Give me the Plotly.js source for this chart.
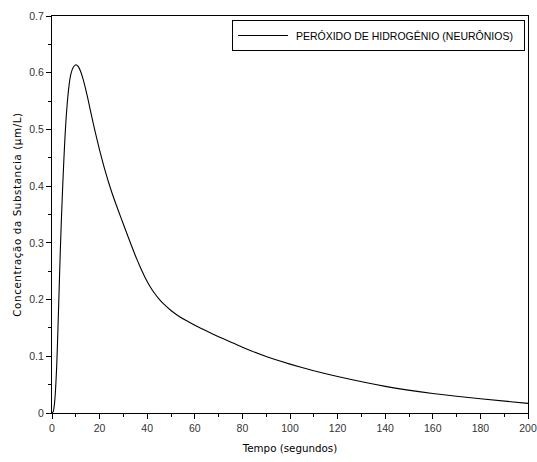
<!DOCTYPE html>
<html>
<head>
<meta charset="utf-8">
<script src="https://cdn.plot.ly/plotly-3.0.1.min.js"></script>
<style>html,body{margin:0;padding:0;background:#fff;}#chart{width:537px;height:462px;}
.ytitle{letter-spacing:0.6px;}</style>
</head>
<body>
<div id="chart"></div>
<script>
const seriesName = "PERÓXIDO DE HIDROGÊNIO (NEURÔNIOS)";
const tempo = [0,0.5,1,1.5,2,2.5,3,3.5,4,4.5,5,5.5,6,6.5,7,7.5,8,9,10,11,12,13,14,15,16,17,18,20,22,25,28,30,33,35,37,39,41,43,45,47,50,53,56,60,65,70,75,80,90,100,110,120,140,160,180,200];
const concentracao = [0,0.002,0.015,0.042,0.085,0.148,0.218,0.287,0.347,0.4,0.448,0.49,0.524,0.551,0.572,0.588,0.599,0.61,0.614,0.611,0.6025,0.5895,0.5735,0.5555,0.536,0.5168,0.4983,0.4633,0.4317,0.3906,0.3552,0.3328,0.2994,0.2778,0.2578,0.240,0.2245,0.2115,0.2008,0.1918,0.1808,0.1716,0.1638,0.1548,0.1444,0.1346,0.1254,0.1160,0.0995,0.0862,0.0745,0.0642,0.047,0.0345,0.025,0.017];
const xTickVals = [0,20,40,60,80,100,120,140,160,180,200];
const yTickVals = [0,0.1,0.2,0.3,0.4,0.5,0.6,0.7];
const xTitle = "Tempo (segundos)";
const yTitle = "Concentração da Substancia (µm/L)";

const font = "Liberation Sans, Arial, sans-serif";
const tfont = "DejaVu Sans, sans-serif";
Plotly.newPlot("chart", [{
  x: tempo, y: concentracao, type: "scatter", mode: "lines",
  name: "\u00a0" + seriesName + "\u00a0\u00a0", line: {color: "#000", width: 1.1, shape: "spline", smoothing: 0.4},
  showlegend: true
}], {
  width: 537, height: 462,
  margin: {l: 52, r: 9, t: 16, b: 49},
  paper_bgcolor: "#fff", plot_bgcolor: "#fff",
  font: {family: font, size: 11, color: "#000"},
  showlegend: true,
  legend: {x: 0.9937, y: 0.99, xanchor: "right", yanchor: "top", bordercolor: "#000", borderwidth: 1,
           bgcolor: "#fff", itemwidth: 50, font: {family: font, size: 10.5, color: "#000"}},
  xaxis: {range: [0, 200], tickvals: xTickVals, ticks: "outside", ticklen: 5, tickcolor: "#000",
          ticklabeloverflow: "allow",
          showline: true, linecolor: "#000", linewidth: 1, mirror: true, showgrid: false, zeroline: false,
          minor: {dtick: 10, ticks: "outside", ticklen: 3, tickcolor: "#000"},
          tickfont: {family: font, size: 10.5, color: "#333"},
          title: {text: xTitle, standoff: 12, font: {family: tfont, size: 10.3, color: "#000"}}},
  yaxis: {range: [0, 0.7], tickvals: yTickVals, ticks: "outside", ticklen: 5, tickcolor: "#000",
          showline: true, linecolor: "#000", linewidth: 1, mirror: true, showgrid: false, zeroline: false,
          minor: {dtick: 0.05, ticks: "outside", ticklen: 3, tickcolor: "#000"},
          tickfont: {family: font, size: 10.5, color: "#333"},
          title: {text: yTitle, standoff: 5, font: {family: tfont, size: 10.3, color: "#000"}}}
}, {displayModeBar: false, staticPlot: true});
</script>
</body>
</html>
